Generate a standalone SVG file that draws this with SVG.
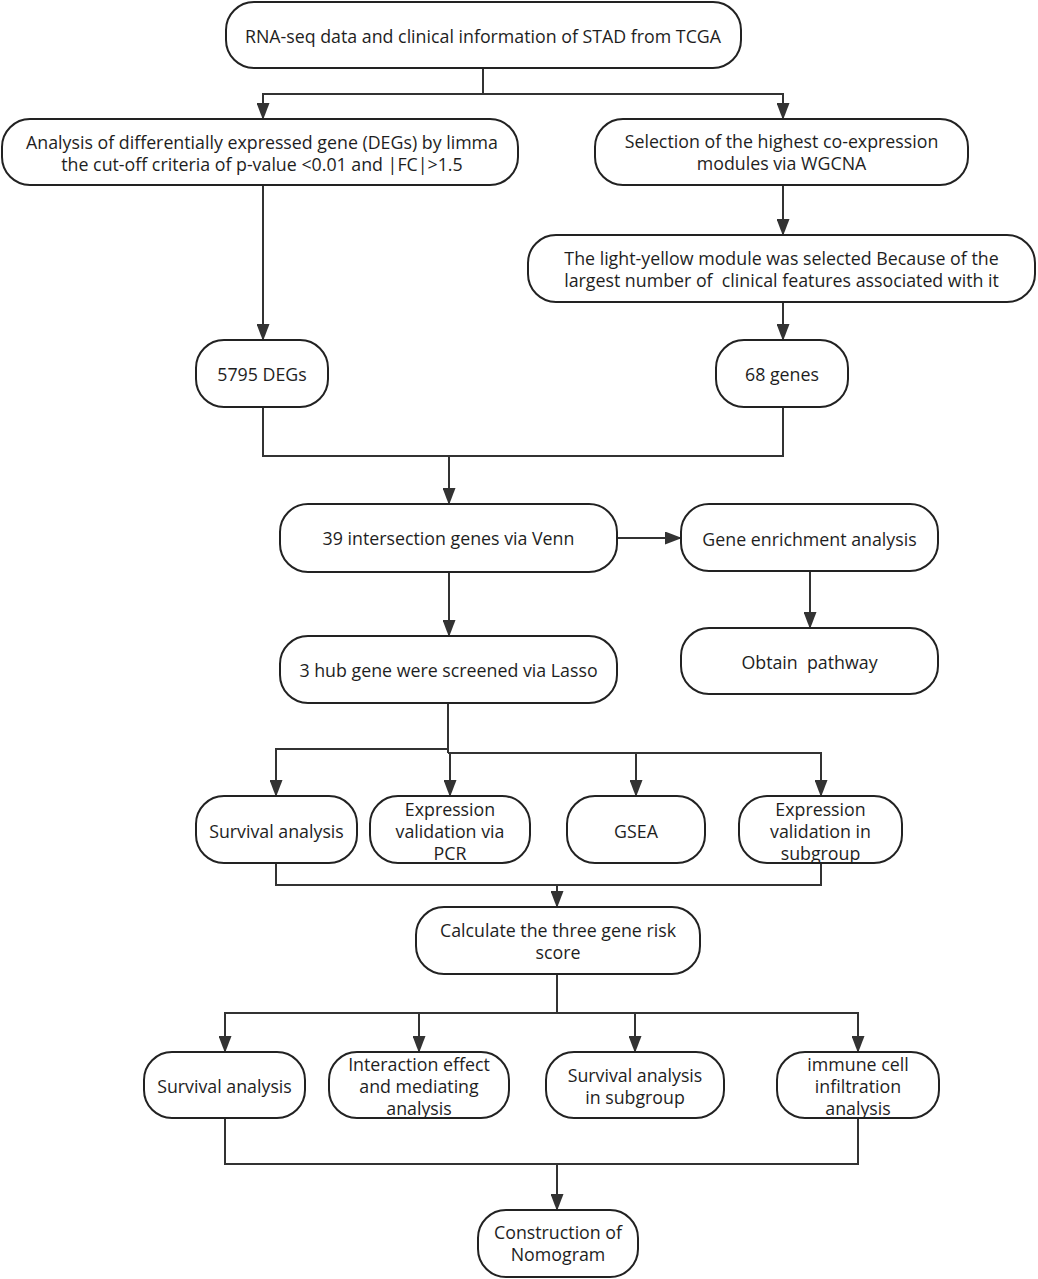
<svg xmlns="http://www.w3.org/2000/svg" width="1038" height="1279" viewBox="0 0 1038 1279">
<defs>
<marker id="arr" markerUnits="userSpaceOnUse" markerWidth="17" markerHeight="13" refX="16" refY="6.5" orient="auto">
<path d="M0,0 L17,6.5 L0,13 Z" fill="#333"/>
</marker>
<style>
.node rect{fill:#fff;stroke:#222;stroke-width:2}
.node text{font-family:"Open Sans","Noto Sans","Liberation Sans",sans-serif;font-size:17.8px;fill:#1e1e1e;text-anchor:middle;white-space:pre}
.conn path{stroke:#333;stroke-width:2;fill:none}
.conn path.a{marker-end:url(#arr)}
</style>
</defs>
<rect width="1038" height="1279" fill="#fff"/>
<g class="conn">
<path d="M483,68 V94"/>
<path class="a" d="M483,94 H263 V119"/>
<path class="a" d="M483,94 H783 V119"/>
<path class="a" d="M263,185 V340"/>
<path class="a" d="M783,185 V235"/>
<path class="a" d="M783,302 V340"/>
<path d="M263,407 V456 H783 V407"/>
<path class="a" d="M449,456 V504"/>
<path class="a" d="M617,538 H681"/>
<path class="a" d="M810,571 V628"/>
<path class="a" d="M449,572 V636"/>
<path d="M448,703 V753"/>
<path class="a" d="M448,749 H276 V796"/>
<path class="a" d="M450,753 V796"/>
<path class="a" d="M448,753 H821 V796"/>
<path class="a" d="M636,753 V796"/>
<path d="M276,863 V885 H821 V863"/>
<path class="a" d="M557,885 V907"/>
<path d="M557,974 V1013"/>
<path class="a" d="M557,1013 H225 V1052"/>
<path class="a" d="M557,1013 H858 V1052"/>
<path class="a" d="M419,1013 V1052"/>
<path class="a" d="M635,1013 V1052"/>
<path d="M225,1118 V1164 H858 V1118"/>
<path class="a" d="M557,1164 V1210"/>
</g>
<g id="n1" class="node"><rect x="226" y="2" width="515" height="66" rx="28"/><text x="483" y="43">RNA-seq data and clinical information of STAD from TCGA</text></g>
<g id="n2" class="node"><rect x="2" y="119" width="516" height="66" rx="28"/><text x="262" y="149">Analysis of differentially expressed gene (DEGs) by limma</text><text x="262" y="171">the cut-off criteria of p-value &lt;0.01 and |FC|&gt;1.5</text></g>
<g id="n3" class="node"><rect x="595" y="119" width="373" height="66" rx="28"/><text x="781.5" y="148">Selection of the highest co-expression</text><text x="781.5" y="170">modules via WGCNA</text></g>
<g id="n4" class="node"><rect x="528" y="235" width="507" height="67" rx="28"/><text x="781.5" y="265">The light-yellow module was selected Because of the</text><text x="781.5" y="287">largest number of  clinical features associated with it</text></g>
<g id="n5" class="node"><rect x="196" y="340" width="132" height="67" rx="28"/><text x="262" y="381">5795 DEGs</text></g>
<g id="n6" class="node"><rect x="716" y="340" width="132" height="67" rx="28"/><text x="782" y="381">68 genes</text></g>
<g id="n7" class="node"><rect x="280" y="504" width="337" height="68" rx="28"/><text x="448.5" y="545">39 intersection genes via Venn</text></g>
<g id="n8" class="node"><rect x="681" y="504" width="257" height="67" rx="28"/><text x="809.5" y="546">Gene enrichment analysis</text></g>
<g id="n9" class="node"><rect x="681" y="628" width="257" height="66" rx="28"/><text x="809.5" y="669">Obtain  pathway</text></g>
<g id="n10" class="node"><rect x="280" y="636" width="337" height="67" rx="28"/><text x="448.5" y="677">3 hub gene were screened via Lasso</text></g>
<g id="n11" class="node"><rect x="196" y="796" width="161" height="67" rx="28"/><text x="276.5" y="838">Survival analysis</text></g>
<g id="n12" class="node"><rect x="370" y="796" width="160" height="67" rx="28"/><text x="450" y="816">Expression</text><text x="450" y="838">validation via</text><text x="450" y="860">PCR</text></g>
<g id="n13" class="node"><rect x="567" y="796" width="138" height="67" rx="28"/><text x="636" y="838">GSEA</text></g>
<g id="n14" class="node"><rect x="739" y="796" width="163" height="67" rx="28"/><text x="820.5" y="816">Expression</text><text x="820.5" y="838">validation in</text><text x="820.5" y="860">subgroup</text></g>
<g id="n15" class="node"><rect x="416" y="907" width="284" height="67" rx="28"/><text x="558" y="937">Calculate the three gene risk</text><text x="558" y="959">score</text></g>
<g id="n16" class="node"><rect x="144" y="1052" width="161" height="66" rx="28"/><text x="224.5" y="1093">Survival analysis</text></g>
<g id="n17" class="node"><rect x="329" y="1052" width="180" height="66" rx="28"/><text x="419" y="1071">Interaction effect</text><text x="419" y="1093">and mediating</text><text x="419" y="1115">analysis</text></g>
<g id="n18" class="node"><rect x="546" y="1052" width="178" height="66" rx="28"/><text x="635" y="1082">Survival analysis</text><text x="635" y="1104">in subgroup</text></g>
<g id="n19" class="node"><rect x="777" y="1052" width="162" height="66" rx="28"/><text x="858" y="1071">immune cell</text><text x="858" y="1093">infiltration</text><text x="858" y="1115">analysis</text></g>
<g id="n20" class="node"><rect x="478" y="1210" width="160" height="67" rx="28"/><text x="558" y="1239">Construction of</text><text x="558" y="1261">Nomogram</text></g>
</svg>
